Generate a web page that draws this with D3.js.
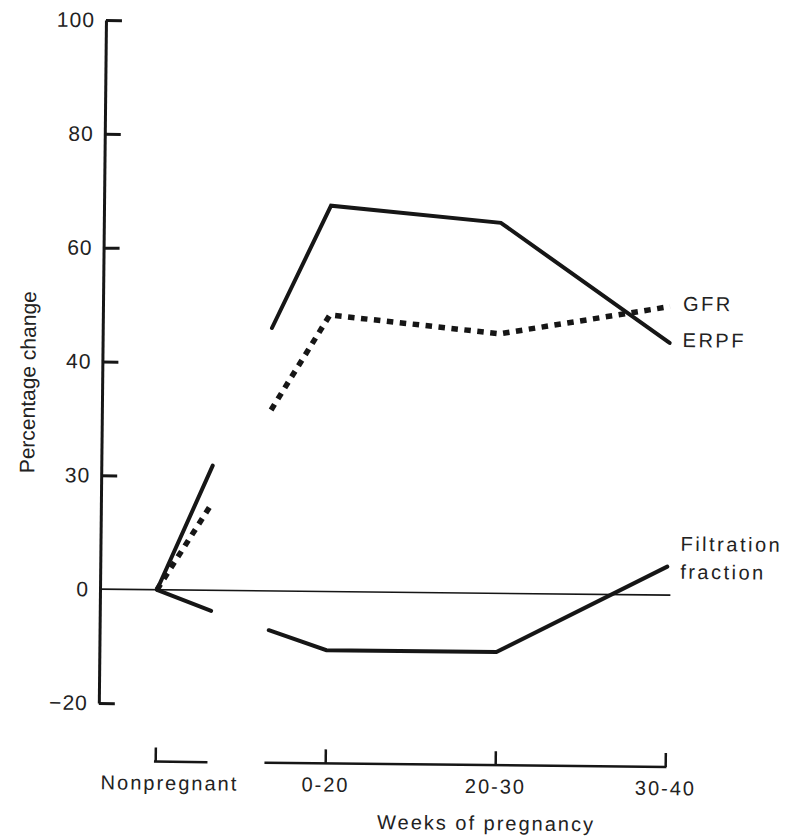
<!DOCTYPE html>
<html>
<head>
<meta charset="utf-8">
<script src="https://cdnjs.cloudflare.com/ajax/libs/d3/7.8.5/d3.min.js"></script>
<style>
body{margin:0;background:#fff;}
svg{display:block;font-family:"Liberation Sans",Arial,sans-serif;}
</style>
</head>
<body>
<div id="graphHolder"></div>
<script>
// categories on the x axis (period index 0..3)
var periods = ["Nonpregnant","0-20","20-30","30-40"];
var periodPos = [0,1,2,3];
// y ticks, labels as printed in the figure
var yTicks = [-20,0,20,40,60,80,100];
var yTickLabels = ["\u221220","0","30","40","60","80","100"];

// x (period units) of the segment ends
var npX = [0,0.32];
var pregX = [0.66,1,2,3];

var gfrNp = [0,15.4];
var gfrPreg = [31.8,48.6,45.6,50.7];
var erpfNp = [0,21.9];
var erpfPreg = [46.2,67.8,65.1,44.3];
var ffNp = [0,-3.6];
var ffPreg = [-6.9,-10.3,-10.3,5.0];

// axis line pieces (period units)
var axisSpans = [[0,0.3],[0.65,3]];

var series = [
	{name:["GFR"], np:gfrNp, preg:gfrPreg, dotted:true},
	{name:["ERPF"], np:erpfNp, preg:erpfPreg, dotted:false},
	{name:["Filtration","fraction"], np:ffNp, preg:ffPreg, dotted:false}
];

var W = 787, H = 838;
var ink = "#161616";
var axisX = 100, axisY = 761;

var svg = d3.select("#graphHolder")
	.append("svg")
	.attr("width",W)
	.attr("height",H);
svg.append("rect").attr("width",W).attr("height",H).attr("fill","#fff");

// the scan is tilted slightly
var g = svg.append("g").attr("transform","rotate(0.6,"+axisX+",590)");

var x = d3.scaleLinear().domain([0,3]).range([157,667]);
var y = d3.scaleLinear().domain([-20,100]).range([703,20]);

// y axis
var yAxis = d3.axisLeft(y)
	.tickValues(yTicks)
	.tickFormat(function(d,i){return yTickLabels[i];})
	.tickSizeInner(-16)
	.tickSizeOuter(0)
	.tickPadding(11);
var yg = g.append("g")
	.attr("transform","translate("+axisX+",0)")
	.call(yAxis)
	.attr("font-size",21)
	.attr("font-family",null)
	.style("color",ink);
yg.select(".domain").attr("stroke-width",3);
yg.selectAll(".tick line").attr("stroke-width",3);
yg.selectAll(".tick").filter(function(d){return d===0;}).select("line").remove();
yg.selectAll(".tick text").attr("fill","#222").style("letter-spacing","1px");

// zero line
g.append("line")
	.attr("x1",axisX).attr("x2",x(3.02))
	.attr("y1",y(0)).attr("y2",y(0))
	.attr("stroke",ink).attr("stroke-width",1.6);

// x axis
var xAxis = d3.axisBottom(x)
	.tickValues(periodPos)
	.tickFormat(function(d,i){return periods[i];})
	.tickSizeInner(-14)
	.tickSizeOuter(0)
	.tickPadding(14);
var xg = g.append("g")
	.attr("transform","translate(0,"+axisY+")")
	.call(xAxis)
	.attr("font-size",20)
	.attr("font-family",null)
	.style("color",ink);
xg.select(".domain").remove();
xg.selectAll(".tick line").attr("stroke-width",2.5);
xg.selectAll(".tick text").attr("fill","#222").style("letter-spacing","2px");
xg.selectAll(".tick text").filter(function(d){return d===0;}).attr("dx",14);
xg.selectAll(".span")
	.data(axisSpans)
	.enter()
	.append("line")
	.attr("class","span")
	.attr("x1",function(d){return x(d[0]);})
	.attr("x2",function(d){return x(d[1]);})
	.attr("y1",0).attr("y2",0)
	.attr("stroke",ink).attr("stroke-width",2.5)
	.attr("stroke-linecap","square");

// lines
var line = d3.line()
	.x(function(d){return x(d[0]);})
	.y(function(d){return y(d[1]);});

series.forEach(function(s){
	[d3.zip(npX,s.np), d3.zip(pregX,s.preg)].forEach(function(pts){
		var p = g.append("path")
			.attr("d",line(pts))
			.attr("fill","none")
			.attr("stroke",ink);
		if (s.dotted){
			p.attr("stroke-width",5.5).attr("stroke-dasharray","6.5,6.5");
		}else{
			p.attr("stroke-width",4).attr("stroke-linecap","round");
		}
	});
	var last = s.preg[s.preg.length-1];
	var t = g.append("text")
		.attr("x",x(3)+13)
		.attr("y",y(last)+4-(s.name.length-1)*20)
		.attr("font-size",20)
		.attr("fill","#222")
		.style("letter-spacing","2.5px");
	s.name.forEach(function(n,i){
		t.append("tspan")
			.attr("x",x(3)+13)
			.attr("dy",i==0?0:28)
			.text(n);
	});
});

// axis titles
g.append("text")
	.attr("transform","translate(33,383) rotate(-90)")
	.attr("text-anchor","middle")
	.attr("font-size",21)
	.attr("fill","#222")
	.text("Percentage change");

g.append("text")
	.attr("x",x(1.95))
	.attr("y",826)
	.attr("text-anchor","middle")
	.attr("font-size",20)
	.attr("fill","#222")
	.style("letter-spacing","2px")
	.text("Weeks of pregnancy");
</script>
</body>
</html>
